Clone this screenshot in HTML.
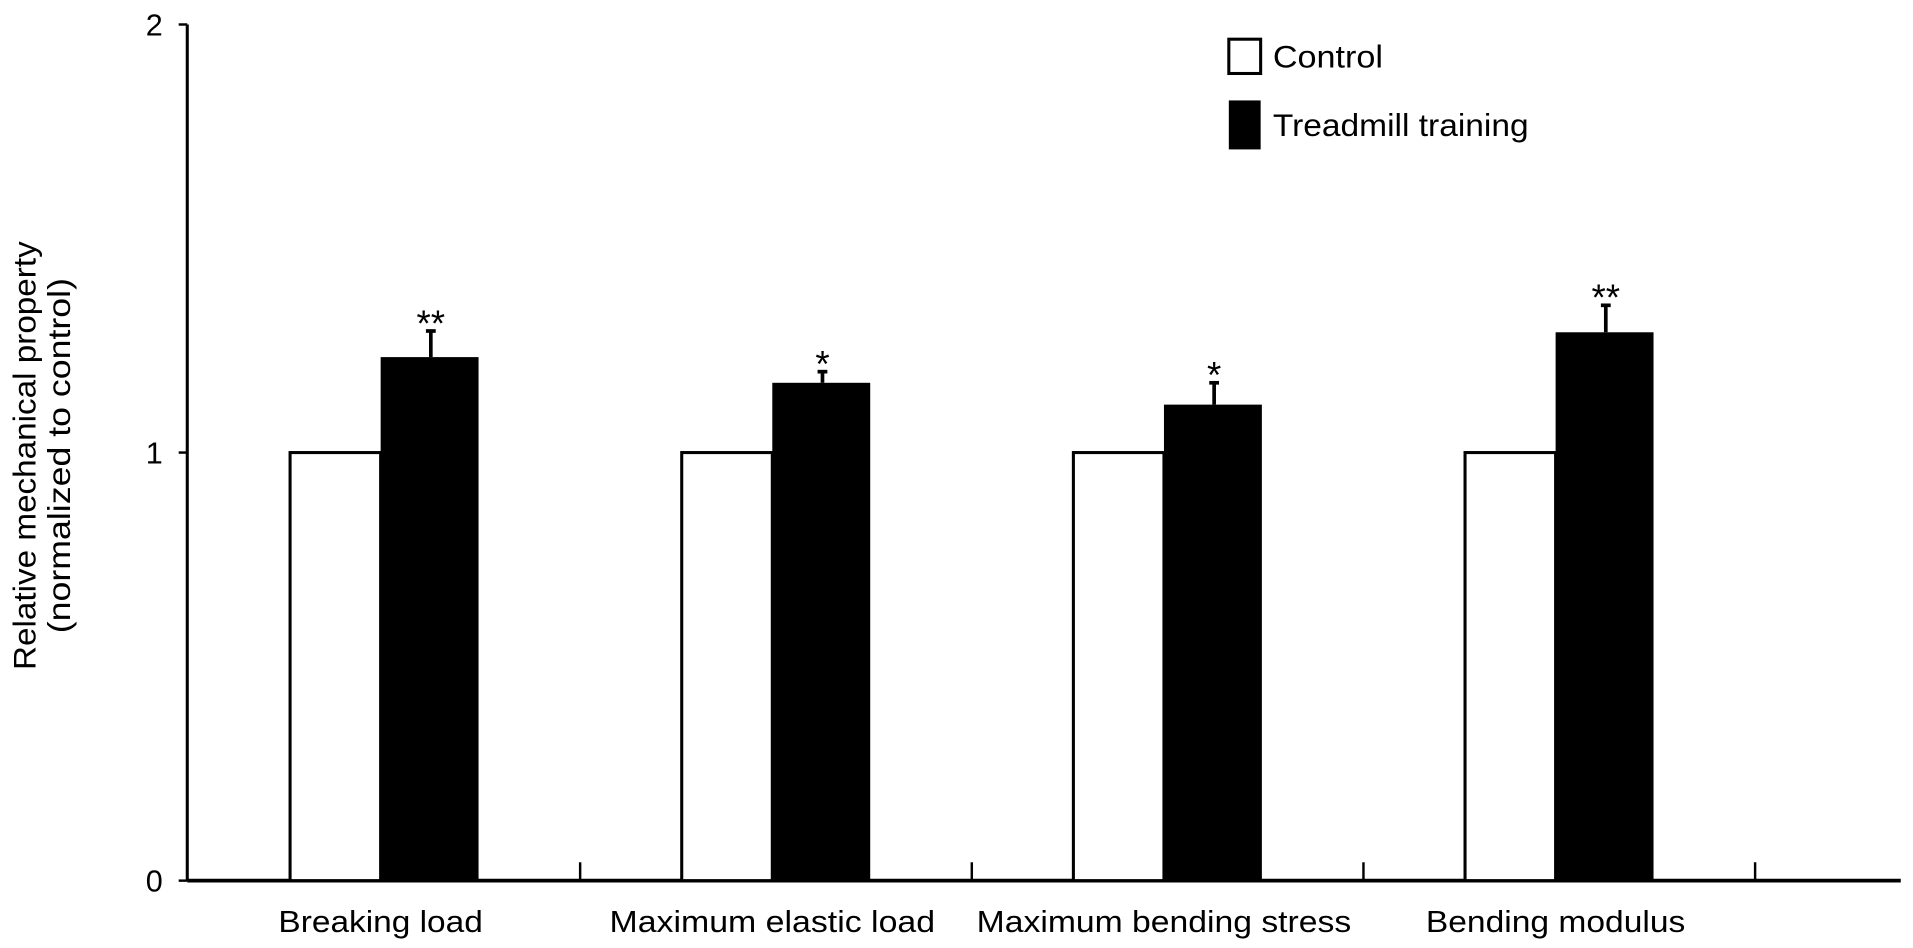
<!DOCTYPE html>
<html><head><meta charset="utf-8"><style>
html,body{margin:0;padding:0;background:#fff;}
svg{display:block;font-family:"Liberation Sans",sans-serif;}
</style></head><body>
<svg id="chart" width="1913" height="948" viewBox="0 0 1563 774" preserveAspectRatio="none" xmlns="http://www.w3.org/2000/svg">
<g id="axes"></g><g id="bars"></g>
<g>
<rect x="1004" y="32" width="26" height="28" fill="#fff" stroke="#000" stroke-width="2.5"/>
<text x="1040" y="55" font-size="26" textLength="90" lengthAdjust="spacingAndGlyphs">Control</text>
<rect x="1004" y="82" width="26" height="40" fill="#000"/>
<text x="1040" y="111" font-size="26" textLength="209" lengthAdjust="spacingAndGlyphs">Treadmill training</text>
</g>
<text transform="translate(29,372) rotate(-90)" text-anchor="middle" font-size="26"><tspan x="0" dy="0" textLength="350" lengthAdjust="spacingAndGlyphs">Relative mechanical property</tspan><tspan x="0" dy="28" textLength="290" lengthAdjust="spacingAndGlyphs">(normalized to control)</tspan></text>
</svg>
<script>
const categories=["Breaking load","Maximum elastic load","Maximum bending stress","Bending modulus"];
const labelWidths=[167,266,306,212];
const controlValues=[1,1,1,1];
const treadmillValues=[1.223,1.163,1.112,1.281];
const treadmillErrors=[0.061,0.026,0.051,0.063];
const significance=["**","*","*","**"];
const yTicks=[0,1,2];
const NS="http://www.w3.org/2000/svg";
const x0=153,x1=1553,y0=719,yTop=20,groupW=320;
function y(v){return y0-(v/2)*(y0-yTop);}
function gx(i){return x0+i*groupW;}
function mk(tag,attrs,parent){const e=document.createElementNS(NS,tag);for(const k in attrs)e.setAttribute(k,attrs[k]);parent.appendChild(e);return e;}
const axes=document.getElementById('axes'),bars=document.getElementById('bars');
let e=mk('line',{x1:x0,y1:yTop,x2:x0,y2:y0,stroke:'#000','stroke-width':2.5},axes);


e=mk('line',{x1:x0,y1:y0,x2:x1,y2:y0,stroke:'#000','stroke-width':3},axes);


yTicks.forEach(t=>{
  let l=mk('line',{x1:x0-7,y1:y(t),x2:x0,y2:y(t),stroke:'#000','stroke-width':2},axes);
  
  
  let tx=mk('text',{x:x0-20,y:y(t)+9,'text-anchor':'end','font-size':25},axes);tx.textContent=t;
  
  
});
categories.forEach((c,i)=>{
  let l=mk('line',{x1:gx(i+1)+1,y1:y0-15,x2:gx(i+1)+1,y2:y0,stroke:'#000','stroke-width':2},axes);
  
  
  const cx=gx(i)+158;
  let tx=mk('text',{x:cx,y:y0+42,'text-anchor':'middle','font-size':25,textLength:labelWidths[i],lengthAdjust:'spacingAndGlyphs'},axes);tx.textContent=c;
  
  
  const cb=mk('rect',{x:cx-74,y:y(controlValues[i]),width:74,height:y0-y(controlValues[i]),fill:'#fff',stroke:'#000','stroke-width':2.5},bars);
  
  
  const tv=treadmillValues[i],te=tv+treadmillErrors[i];
  const el=mk('line',{x1:cx+41,y1:y(tv),x2:cx+41,y2:y(te),stroke:'#000','stroke-width':3},bars);
  
  
  const cap=mk('line',{x1:cx+37,y1:y(te),x2:cx+45,y2:y(te),stroke:'#000','stroke-width':3},bars);
  
  
  const tb=mk('rect',{x:cx,y:y(tv),width:80,height:y0-y(tv),fill:'#000'},bars);
  
  
  const s=mk('text',{x:cx+41,y:y(te)+4,'text-anchor':'middle','font-size':30},bars);s.textContent=significance[i];
  
  
});
</script>
</body></html>
